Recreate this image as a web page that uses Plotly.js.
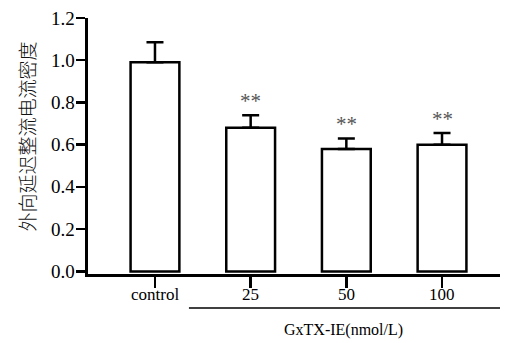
<!DOCTYPE html>
<html><head><meta charset="utf-8">
<script src="https://cdn.plot.ly/plotly-3.0.1.min.js"></script>
<style>body{margin:0;background:#fff}#c{width:512px;height:343px}</style>
</head><body><div id="c"></div>
<script>
var categories = ["control", "25", "50", "100"];
var values = [0.99, 0.68, 0.58, 0.60];
var errors = [0.095, 0.06, 0.05, 0.055];
var marks = ["", "**", "**", "**"];
var yTicks = [0, 0.2, 0.4, 0.6, 0.8, 1.0, 1.2];
var yTickText = ["0.0", "0.2", "0.4", "0.6", "0.8", "1.0", "1.2"];

var serif = "Liberation Serif";
var trace = {
  type: "bar", x: categories, y: values, width: 0.51,
  marker: {color: "#fff", line: {color: "#000", width: 2.5}},
  error_y: {type: "data", array: errors, arrayminus: errors.map(function(){return 0;}), symmetric: false,
            color: "#000", thickness: 2.5, width: 8.5},
  hoverinfo: "none"
};
var ann = [];
categories.forEach(function(c, i){
  if (marks[i]) ann.push({x: i, y: values[i] + errors[i], xref: "x", yref: "y", text: marks[i],
    showarrow: false, yanchor: "bottom", yshift: 0, font: {family: serif, size: 21, color: "#555"}});
  ann.push({x: i, y: -0.082, xref: "x", yref: "paper", text: c, showarrow: false,
    xanchor: "center", yanchor: "middle", font: {family: serif, size: 17, color: "#000"}});
});
yTicks.forEach(function(v, i){
  ann.push({x: 0, y: v, xref: "paper", yref: "y", text: yTickText[i], showarrow: false,
    xanchor: "right", yanchor: "middle", xshift: -11, font: {family: serif, size: 19, color: "#000"}});
});
ann.push({xref: "paper", yref: "paper", x: 0.619, y: -0.218, text: "GxTX-IE(nmol/L)", showarrow: false,
  xanchor: "center", yanchor: "middle", font: {family: serif, size: 16, color: "#000"}});
ann.push({xref: "paper", yref: "paper", x: -0.150, y: 0.538, text: "外向延迟整流电流密度", showarrow: false, textangle: -90,
  xanchor: "center", yanchor: "middle", font: {family: "Noto Sans CJK SC", size: 19, weight: 300, color: "#111"}});

var layout = {
  width: 512, height: 343, margin: {l: 88, r: 12, t: 17.5, b: 69},
  font: {family: serif, size: 17, color: "#000"},
  paper_bgcolor: "#fff", plot_bgcolor: "#fff", showlegend: false,
  xaxis: {type: "category", range: [-0.70, 3.606], showline: true, linecolor: "#000", linewidth: 2.7,
    ticks: "outside", ticklen: 11, tickwidth: 2.5, tickcolor: "#000", showgrid: false, zeroline: false,
    showticklabels: false},
  yaxis: {range: [-0.012, 1.2], showline: true, linecolor: "#000", linewidth: 2.7,
    ticks: "outside", ticklen: 9, tickwidth: 2.5, tickcolor: "#000", showgrid: false, zeroline: false,
    tickmode: "array", tickvals: yTicks, showticklabels: false},
  shapes: [{type: "line", xref: "paper", yref: "paper", x0: 0.245, x1: 1.0, y0: -0.1326, y1: -0.1326,
    line: {color: "#000", width: 1.5}}],
  annotations: ann
};
Plotly.newPlot("c", [trace], layout, {staticPlot: true});
</script></body></html>
